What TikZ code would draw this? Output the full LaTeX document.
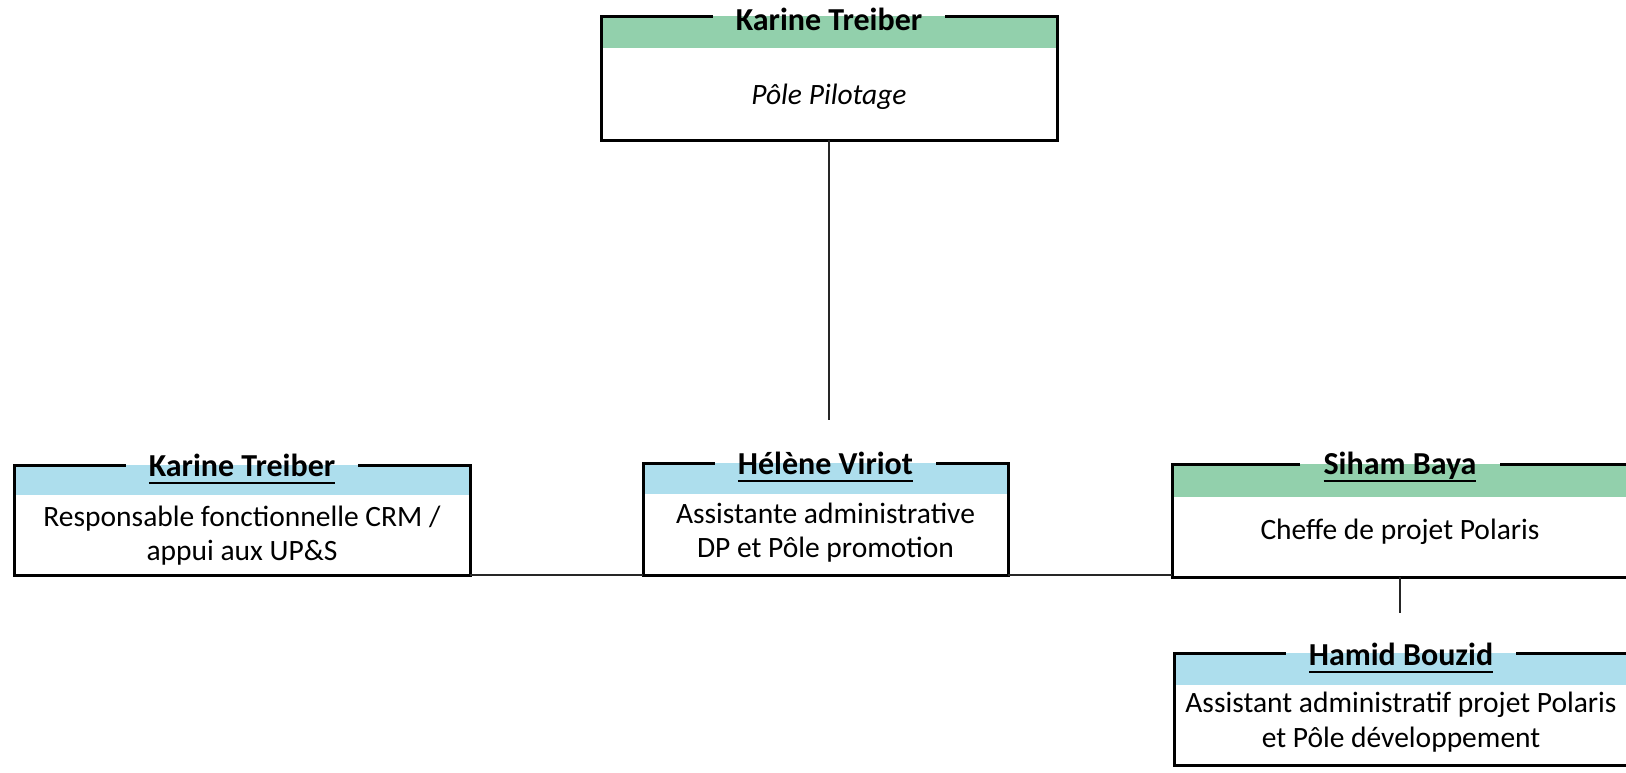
\documentclass[tikz,border=0pt]{standalone}
\usepackage{fontspec}
\setmainfont{Carlito}
\definecolor{bandgreen}{RGB}{146,208,172}
\definecolor{bandblue}{RGB}{173,222,237}
\newcommand\ulname[1]{\setbox0\hbox{#1}\rlap{\rule[-8pt]{\wd0}{2.5pt}}\box0}
\tikzset{
  boxarea/.style={minimum width=#1, inner sep=0pt, outer sep=0pt},
  frame/.style={line width=3pt, black},
  link/.style={line width=2pt, black!85},
  ttl/.style={font=\fontsize{32}{36}\selectfont\bfseries, inner xsep=23pt, inner ysep=0pt, anchor=base},
  body/.style={font=\fontsize{29.5}{34}\selectfont, align=center, inner sep=0pt},
}
\newcommand\orgbox[9]{%
  % #1 name, #2 cx, #3 cy, #4 w, #5 h, #6 band height, #7 band colour, #8 title offset, #9 title
  \node[boxarea=#4pt, minimum height=#5pt] (#1) at (#2,#3) {};
  \fill[#7] (#1.north west) rectangle ([yshift=-#6pt]#1.north east);
  \node[ttl] (#1t) at ([yshift=-#8pt]#1.north) {#9};
  \draw[frame] (#1t.west |- #1.north) -- (#1.north west) -- (#1.south west) -- (#1.south east) -- (#1.north east) -- (#1t.east |- #1.north);
}
\begin{document}
\begin{tikzpicture}[x=1pt,y=-1pt]
\useasboundingbox (0,0) rectangle (1626,772);
\clip (0,0) rectangle (1626,772);
\orgbox{top}{829}{78}{456}{124}{32}{bandgreen}{14}{Karine Treiber}
\node[body, font=\fontsize{29.5}{34}\selectfont\itshape] (topb) at (829,97) {Pôle Pilotage};
\orgbox{left}{242}{520}{456}{110}{30}{bandblue}{11}{\ulname{Karine Treiber}}
\node[body] (leftb) at (242,536) {Responsable fonctionnelle CRM /\\appui aux UP\&S};
\orgbox{mid}{825.5}{519}{365}{112}{31}{bandblue}{11}{\ulname{Hélène Viriot}}
\node[body] (midb) at (825.5,533) {Assistante administrative\\DP et Pôle promotion};
\orgbox{right}{1400}{520.5}{456}{113}{33}{bandgreen}{10}{\ulname{Siham Baya}}
\node[body] (rightb) at (1400,532) {Cheffe de projet Polaris};
\orgbox{ham}{1401}{709}{454}{112}{32}{bandblue}{12}{\ulname{Hamid Bouzid}}
\node[body, font=\fontsize{29.5}{35}\selectfont] (hamb) at (1401,722) {Assistant administratif projet Polaris\\et Pôle développement};
\coordinate (topend) at (top.south |- 0,420);
\coordinate (rightend) at (right.south |- 0,613);
\draw[link] (top.south) -- (topend);
\draw[link] (left.south east) -- (mid.south west);
\draw[link] (mid.south east) -- (mid.south east -| right.west);
\draw[link] (right.south) -- (rightend);
\end{tikzpicture}
\end{document}
